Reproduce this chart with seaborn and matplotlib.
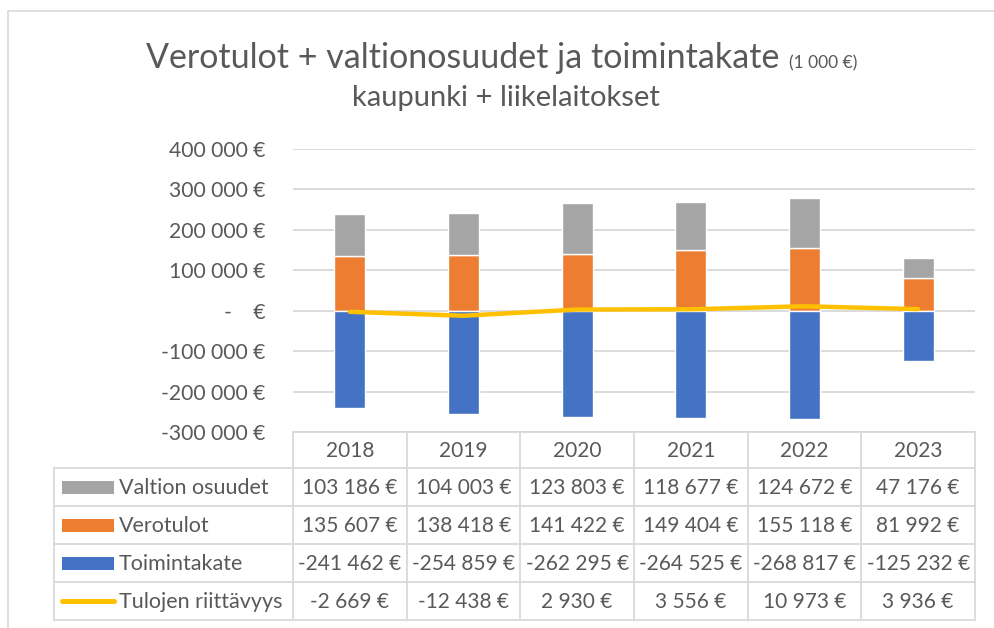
import numpy as np
import pandas as pd
import matplotlib
matplotlib.use("Agg")
import matplotlib.pyplot as plt
import seaborn as sns
from matplotlib.patches import Rectangle

# ---- data ----
years = ["2018", "2019", "2020", "2021", "2022", "2023"]
valtion_osuudet = [103186, 104003, 123803, 118677, 124672, 47176]
verotulot = [135607, 138418, 141422, 149404, 155118, 81992]
toimintakate = [-241462, -254859, -262295, -264525, -268817, -125232]
tulojen_riittavyys = [-2669, -12438, 2930, 3556, 10973, 3936]
series_names = ["Valtion osuudet", "Verotulot", "Toimintakate", "Tulojen riittävyys"]
y_ticks = [-300000, -200000, -100000, 0, 100000, 200000, 300000, 400000]
title_main = "Verotulot + valtionosuudet ja toimintakate"
title_unit = "(1 000 €)"
subtitle = "kaupunki + liikelaitokset"

# ---- style ----
C_GRAY = "#A5A5A5"
C_ORANGE = "#ED7D31"
C_BLUE = "#4472C4"
C_YELLOW = "#FFC000"
TXT = "#595959"
GRID = "#D9D9D9"

sns.set_theme(style="white")
plt.rcParams['font.family'] = ['Lato', 'DejaVu Sans']

W, H = 995, 628
fig = plt.figure(figsize=(W / 100, H / 100), dpi=100)
fig.patch.set_facecolor("white")

# background / layout axes in pixel coordinates
bg = fig.add_axes([0, 0, 1, 1])
bg.set_xlim(0, W)
bg.set_ylim(H, 0)
bg.axis("off")

# outer chart border
bg.plot([8, 8], [11, H], color=GRID, lw=1.2)
bg.plot([8, W], [11, 11], color=GRID, lw=1.2)

# titles
t1 = bg.text(146, 68, title_main, fontsize=24.5, color=TXT, ha="left", va="baseline")
fig.canvas.draw()
bb = t1.get_window_extent()
bg.text(bb.x1 + 10, 68, title_unit, fontsize=12.5, color=TXT, ha="left", va="baseline")
bg.text(506, 106, subtitle, fontsize=21, color=TXT, ha="center", va="baseline")

# ---- main plot ----
x0, x1 = 293, 975
y_top, y_bot = 149, 432
ax = fig.add_axes([x0 / W, 1 - y_bot / H, (x1 - x0) / W, (y_bot - y_top) / H])
ax.set_facecolor("none")

bw = 0.27
sns.barplot(x=years, y=verotulot, color=C_ORANGE, saturation=1, width=bw, ax=ax, zorder=3)
sns.barplot(x=years, y=valtion_osuudet, bottom=verotulot, color=C_GRAY, saturation=1,
            width=bw, ax=ax, zorder=3)
sns.barplot(x=years, y=toimintakate, color=C_BLUE, saturation=1, width=bw, ax=ax, zorder=3)
sns.lineplot(x=years, y=tulojen_riittavyys, color=C_YELLOW, lw=3.2, ax=ax, zorder=4,
             sort=False, solid_capstyle="round")

ax.set_ylim(y_ticks[0], y_ticks[-1])
ax.set_xlim(-0.5, len(years) - 0.5)
ax.set_yticks(y_ticks)


def fmt(v):
    if v == 0:
        return "-    €"
    s = f"{abs(v):,.0f}".replace(",", " ")
    return ("-" if v < 0 else "") + s + " €"


ax.set_yticklabels([fmt(v) for v in y_ticks])
ax.tick_params(axis="y", length=0, pad=20, labelsize=15.2, labelcolor=TXT)
ax.set_xticks([])
ax.set_xlabel("")
ax.set_ylabel("")
ax.yaxis.grid(True, color=GRID, lw=1.3, zorder=0)
ax.set_axisbelow(True)
for s in ax.spines.values():
    s.set_visible(False)
if ax.get_legend():
    ax.get_legend().remove()

# ---- data table ----
col_edges = np.linspace(x0, x1, len(years) + 1)
row_edges = [432, 468, 506, 544, 582, 620]
left_edge = 54
lw_t = 1.3
FS = 15
# horizontal lines
bg.plot([x0, x1], [row_edges[0]] * 2, color=GRID, lw=lw_t)
for ry in row_edges[1:]:
    bg.plot([left_edge, x1], [ry] * 2, color=GRID, lw=lw_t)
# vertical lines
for cx in col_edges:
    bg.plot([cx, cx], [row_edges[0], row_edges[-1]], color=GRID, lw=lw_t)
bg.plot([left_edge, left_edge], [row_edges[1], row_edges[-1]], color=GRID, lw=lw_t)

centers_x = (col_edges[:-1] + col_edges[1:]) / 2
# header
hy = (row_edges[0] + row_edges[1]) / 2
for cx, yr in zip(centers_x, years):
    bg.text(cx, hy + 1, yr, fontsize=FS, color=TXT, ha="center", va="center")

rows = [valtion_osuudet, verotulot, toimintakate, tulojen_riittavyys]
key_colors = [C_GRAY, C_ORANGE, C_BLUE, C_YELLOW]
for i, (name, vals, kc) in enumerate(zip(series_names, rows, key_colors)):
    cy = (row_edges[i + 1] + row_edges[i + 2]) / 2
    if i < 3:
        bg.add_patch(Rectangle((62, cy - 6.5), 52, 13, color=kc, lw=0))
    else:
        bg.plot([62, 114], [cy, cy], color=kc, lw=3.6, solid_capstyle="round")
    bg.text(119, cy + 1, name, fontsize=FS + 0.5, color=TXT, ha="left", va="center")
    for cx, v in zip(centers_x, vals):
        bg.text(cx, cy + 1, fmt(v), fontsize=FS, color=TXT, ha="center", va="center")

fig.savefig("out.png", dpi=100)
